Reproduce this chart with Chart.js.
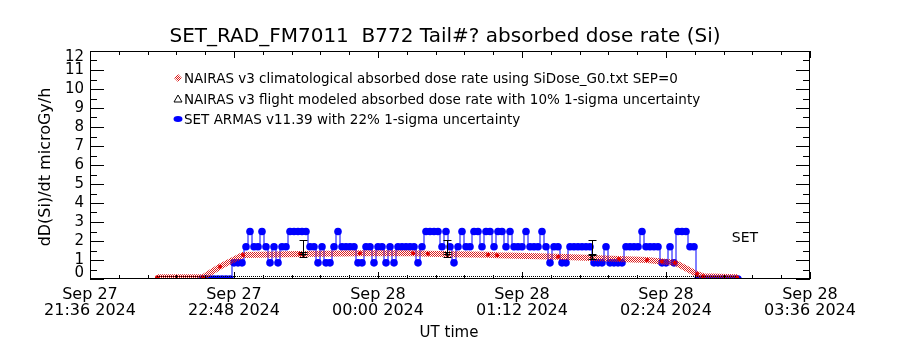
<!DOCTYPE html>
<html>
<head>
<meta charset="utf-8">
<script src="https://cdn.jsdelivr.net/npm/chart.js@4"></script>
<style>
  html, body { margin: 0; padding: 0; background: #fff; }
  #wrap { width: 900px; height: 350px; }
</style>
</head>
<body>
<div id="wrap"><canvas id="doseChart" width="900" height="350"></canvas></div>
<script>
// ================================
// SET ARMAS vs NAIRAS dose rate
// time = minutes after Sep 27 21:36 UT
// ================================

const chartTitle = "SET_RAD_FM7011  B772 Tail#? absorbed dose rate (Si)";
const yTitle = "dD(Si)/dt microGy/h";
const xTitle = "UT time";

// x axis tick labels (every 72 min)
const xTickLabels = [
  ["Sep 27", "21:36 2024"],
  ["Sep 27", "22:48 2024"],
  ["Sep 28", "00:00 2024"],
  ["Sep 28", "01:12 2024"],
  ["Sep 28", "02:24 2024"],
  ["Sep 28", "03:36 2024"]
];
const yTickLabels = ["0", "1", "2", "3", "4", "5", "6", "7", "8", "9", "10", "11", "12"];

// NAIRAS v3 climatological
const nairasClimTimes = [33.5, 56.5, 65, 76.5, 105, 135, 161.5, 169, 199, 203.5, 234, 264.5, 278.5, 286, 292.5, 303.5, 306.5, 323.5];
const nairasClimValues = [0.09, 0.09, 0.65, 1.26, 1.32, 1.35, 1.35, 1.33, 1.28, 1.25, 1.17, 1.05, 1.0, 0.92, 0.86, 0.26, 0.15, 0.09];

// NAIRAS v3 flight modeled (only at the error bar times)
const nairasFltTimes = [106.5, 178.5, 251];
const nairasFltValues = [1.3, 1.3, 1.15];
const nairasFltSigma = 10; // %

// SET ARMAS v11.39
const armasTimes = [
  56, 58, 60, 62, 64, 66, 68, 70,
  72, 74, 76, 78, 80, 82, 84, 86, 88, 90, 92, 94, 96, 98, 100, 102, 104, 106, 108, 110,
  112, 114, 116, 118, 120, 122, 124, 126, 128, 130, 132, 134, 136, 138, 140, 142, 144, 146, 148, 150,
  152, 154, 156, 158, 160, 162, 164, 166, 168, 170, 172, 174, 176, 178, 180, 182, 184, 186, 188, 190,
  192, 194, 196, 198, 200, 202, 204, 206, 208, 210, 212, 214, 216, 218, 220, 222, 224, 226, 228, 230,
  232, 234, 236, 238, 240, 242, 244, 246, 248, 250, 252, 254, 256, 258, 260, 262, 264, 266, 268, 270,
  272, 274, 276, 278, 280, 282, 284, 286, 288, 290, 292, 294, 296, 298, 300, 302,
  304, 306, 308, 310, 312, 314, 316, 318, 320, 322, 324
];
const armasValues = [
  0, 0, 0, 0, 0, 0, 0, 0,
  0.85, 0.85, 0.85, 1.7, 2.5, 1.7, 1.7, 2.5, 1.7, 0.85, 1.7, 0.85, 1.7, 1.7, 2.5, 2.5, 2.5, 2.5, 2.5, 1.7,
  1.7, 0.85, 1.7, 0.85, 0.85, 1.7, 2.5, 1.7, 1.7, 1.7, 1.7, 0.85, 0.85, 1.7, 1.7, 0.85, 1.7, 1.7, 0.85, 1.7,
  0.85, 1.7, 1.7, 1.7, 1.7, 1.7, 0.85, 1.7, 2.5, 2.5, 2.5, 2.5, 1.7, 2.5, 1.7, 0.85, 1.7, 2.5, 1.7, 1.7,
  2.5, 2.5, 1.7, 2.5, 2.5, 1.7, 2.5, 2.5, 1.7, 2.5, 1.7, 1.7, 1.7, 2.5, 1.7, 1.7, 1.7, 2.5, 1.7, 0.85,
  1.7, 1.7, 0.85, 0.85, 1.7, 1.7, 1.7, 1.7, 1.7, 1.7, 0.85, 0.85, 0.85, 1.7, 0.85, 0.85, 0.85, 0.85, 1.7, 1.7,
  1.7, 1.7, 2.5, 1.7, 1.7, 1.7, 1.7, 0.85, 0.85, 1.7, 0.85, 2.5, 2.5, 2.5, 1.7, 1.7,
  0, 0, 0, 0, 0, 0, 0, 0, 0, 0, 0
];
const armasSigma = 22; // %

// error bars are drawn at these times
const errTimes = [106.5, 178.5, 251];
const errArmasValues = [1.7, 1.7, 1.7];

const FONT = "'DejaVu Sans', sans-serif";

function pts(xs, ys) {
  return xs.map((x, i) => ({ x: x, y: ys[i] }));
}

const ctx = document.getElementById("doseChart").getContext("2d");

// checkered red like the IDL dithered band
const pc = document.createElement("canvas");
pc.width = 2; pc.height = 2;
const pcx = pc.getContext("2d");
pcx.fillStyle = "#dd1c1c";
pcx.fillRect(0, 0, 1, 1);
pcx.fillRect(1, 1, 1, 1);
const redChecker = ctx.createPattern(pc, "repeat");

// extra drawing: frame, inward ticks, error bars, titles, legend
const idlStyle = {
  id: "idlStyle",
  afterDatasetsDraw(chart) {
    const c = chart.ctx;
    const xs = chart.scales.x, ys = chart.scales.y;
    c.save();
    c.strokeStyle = "#000";
    c.lineWidth = 1;
    const bar = (t, v, pct, cap) => {
      const px = Math.round(xs.getPixelForValue(t)) + 0.5;
      const lo = Math.round(ys.getPixelForValue(v * (1 - pct / 100))) + 0.5;
      const hi = Math.round(ys.getPixelForValue(v * (1 + pct / 100))) + 0.5;
      c.beginPath();
      c.moveTo(px, lo); c.lineTo(px, hi);
      c.moveTo(px - cap, lo); c.lineTo(px + cap, lo);
      c.moveTo(px - cap, hi); c.lineTo(px + cap, hi);
      c.stroke();
    };
    errTimes.forEach((t, i) => {
      bar(t, errArmasValues[i], armasSigma, 4);
      bar(t, nairasFltValues[i], nairasFltSigma, 4);
    });
    c.restore();
  },
  afterDraw(chart) {
    const c = chart.ctx;
    const a = chart.chartArea;
    const xs = chart.scales.x, ys = chart.scales.y;
    c.save();
    c.strokeStyle = "#000";
    c.lineWidth = 1;
    // frame
    c.strokeRect(a.left + 0.5, a.top + 0.5, a.right - a.left - 1, a.bottom - a.top - 1);
    c.beginPath();
    // y ticks, major + half-unit minor, left and right
    for (let v = 0; v <= 12; v += 0.5) {
      const py = Math.round(ys.getPixelForValue(v)) + 0.5;
      const len = Number.isInteger(v) ? 14 : 7;
      c.moveTo(a.left, py); c.lineTo(a.left + len, py);
      c.moveTo(a.right, py); c.lineTo(a.right - len, py);
    }
    // x ticks, major 72 min + minor 14.4 min, bottom and top
    for (let i = 0; i <= 25; i++) {
      const px = Math.round(xs.getPixelForValue(i * 14.4)) + 0.5;
      const len = i % 5 === 0 ? 7 : 4;
      c.moveTo(px, a.bottom); c.lineTo(px, a.bottom - len);
      c.moveTo(px, a.top); c.lineTo(px, a.top + len);
    }
    c.stroke();
    // dense rug along the bottom over the flight span
    c.setLineDash([1, 1]);
    c.beginPath();
    const r0 = xs.getPixelForValue(nairasClimTimes[0]);
    const r1 = xs.getPixelForValue(nairasClimTimes[nairasClimTimes.length - 1]);
    c.moveTo(r0, a.bottom - 2.5); c.lineTo(r1, a.bottom - 2.5);
    c.stroke();
    c.setLineDash([]);

    c.fillStyle = "#000";
    // y tick labels, end ones pulled inside the frame like IDL does
    c.textAlign = "right";
    c.textBaseline = "middle";
    c.font = "15px " + FONT;
    yTickLabels.forEach((lab, v) => {
      let py = ys.getPixelForValue(v);
      py = Math.min(Math.max(py, a.top + 6), a.bottom - 6);
      c.fillText(lab, a.left - 6, py);
    });

    // titles
    c.textAlign = "center";
    c.font = "20px " + FONT;
    c.fillText(chartTitle, 445, 37);
    c.font = "15px " + FONT;
    c.fillText(xTitle, 449, 333);
    c.save();
    c.font = "16px " + FONT;
    c.translate(46, 167);
    c.rotate(-Math.PI / 2);
    c.fillText(yTitle, 0, 0);
    c.restore();
    c.font = "14px " + FONT;
    c.fillText("SET", 745, 238);

    // legend
    c.textAlign = "left";
    c.font = "13.5px " + FONT;
    const rowsY = [78, 99, 119];
    chart.data.datasets.forEach((ds, k) => {
      const y = rowsY[k];
      const sx = 178;
      if (ds.legendSym === "diamond") {
        c.fillStyle = redChecker;
        c.beginPath();
        c.moveTo(sx, y - 4); c.lineTo(sx + 4, y); c.lineTo(sx, y + 4); c.lineTo(sx - 4, y);
        c.closePath(); c.fill();
      } else if (ds.legendSym === "triangle") {
        c.strokeStyle = "#000";
        c.beginPath();
        c.moveTo(sx, y - 4); c.lineTo(sx + 4, y + 3); c.lineTo(sx - 4, y + 3);
        c.closePath(); c.stroke();
      } else {
        c.fillStyle = "#0000ff";
        c.beginPath();
        c.ellipse(sx, y, 4.5, 3, 0, 0, Math.PI * 2);
        c.fill();
      }
      c.fillStyle = "#000";
      c.fillText(ds.label, 184, y + 1);
    });
    c.restore();
  }
};

window.doseChart = new Chart(ctx, {
  type: "scatter",
  data: {
    datasets: [
      {
        label: "NAIRAS v3 climatological absorbed dose rate using SiDose_G0.txt SEP=0",
        legendSym: "diamond",
        data: pts(nairasClimTimes, nairasClimValues),
        showLine: true,
        borderColor: redChecker,
        borderWidth: 6,
        pointRadius: 2,
        pointBackgroundColor: "#e00000",
        pointBorderWidth: 0,
        order: 0
      },
      {
        label: "NAIRAS v3 flight modeled absorbed dose rate with 10% 1-sigma uncertainty",
        legendSym: "triangle",
        data: pts(nairasFltTimes, nairasFltValues),
        showLine: false,
        pointStyle: "triangle",
        pointRadius: 2,
        borderColor: "#000",
        backgroundColor: "#000",
        order: 1
      },
      {
        label: "SET ARMAS v11.39 with 22% 1-sigma uncertainty",
        legendSym: "blob",
        data: pts(armasTimes, armasValues),
        showLine: true,
        stepped: "middle",
        borderColor: "#0000ff",
        borderWidth: 1,
        pointRadius: 3.8,
        pointBackgroundColor: "#0000ff",
        pointBorderWidth: 0,
        order: 2
      }
    ]
  },
  options: {
    responsive: false,
    animation: false,
    devicePixelRatio: 1,
    layout: { padding: { top: 51, right: 90, left: 0, bottom: 0 } },
    plugins: {
      legend: { display: false },
      tooltip: { enabled: false },
      title: { display: false }
    },
    scales: {
      x: {
        type: "linear",
        min: 0,
        max: 360,
        grid: { display: false, drawTicks: false },
        border: { display: false },
        ticks: {
          stepSize: 72,
          padding: 8,
          color: "#000",
          maxRotation: 0,
          autoSkip: false,
          font: { family: FONT, size: 16, lineHeight: 1.0 },
          callback: (v) => xTickLabels[Math.round(v / 72)]
        },
        afterFit: (s) => { s.height = 71; }
      },
      y: {
        min: 0,
        max: 12,
        grid: { display: false, drawTicks: false },
        border: { display: false },
        ticks: { display: false, stepSize: 1 },
        afterFit: (s) => { s.width = 90; }
      }
    }
  },
  plugins: [idlStyle]
});
</script>
</body>
</html>
